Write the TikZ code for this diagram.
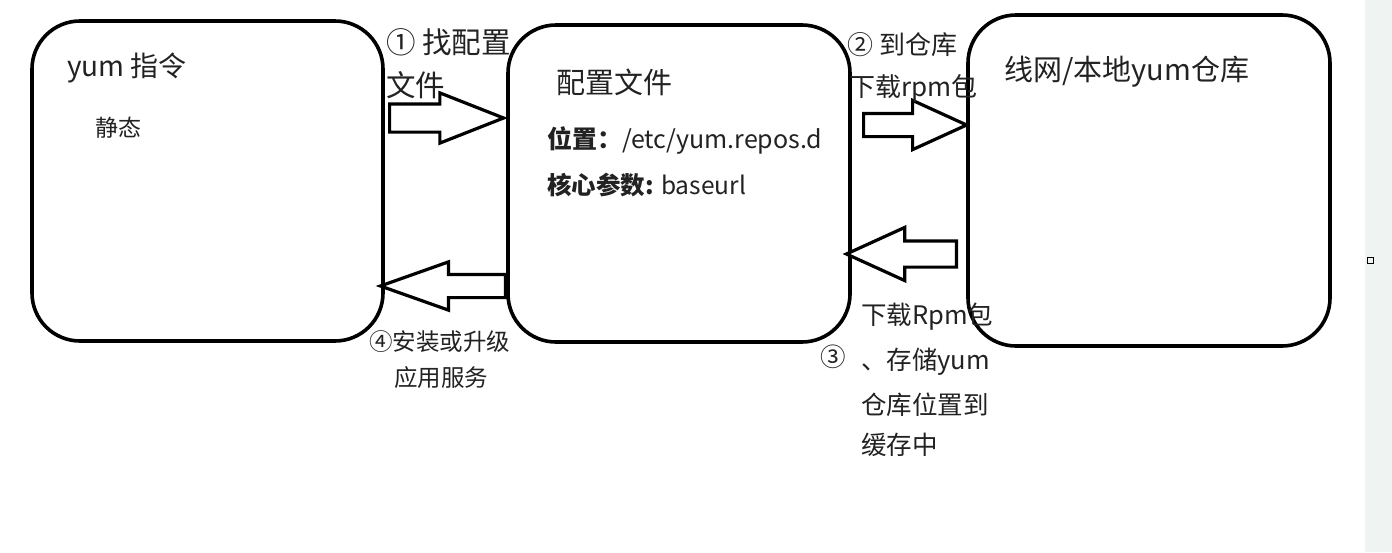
\documentclass[tikz,border=0pt]{standalone}
\usepackage{fontspec}
\setmainfont{Noto Sans CJK SC}
\usetikzlibrary{shapes.arrows}
\definecolor{ink}{HTML}{222222}
\definecolor{band}{HTML}{EFF4F2}
\newcommand{\fs}[1]{\fontsize{#1}{#1}\selectfont}
\tikzset{
  stage/.style={draw=black,line width=3.6pt,rounded corners=48pt,inner sep=0pt},
  fat/.style={single arrow,draw=black,line width=3.2pt,fill=white,inner xsep=0pt,single arrow head indent=0pt,anchor=tail},
  txt/.style={anchor=west,text=ink,inner sep=0pt},
}
\begin{document}
\begin{tikzpicture}[x=1pt,y=-1pt]
  \useasboundingbox (0,0) rectangle (1392,552);
  \fill[white] (0,0) rectangle (1392,552);
  \fill[band] (1365,0) rectangle (1392,552);
  \draw[line width=1pt] (1367,257) rectangle (1373,263);
  % three stages
  \node[stage,minimum width=351pt,minimum height=320pt] (cmd) at (207.5,181) {};
  \node[stage,minimum width=342pt,minimum height=317pt] (cfg) at (679,183.5) {};
  \node[stage,minimum width=362pt,minimum height=331pt] (repo) at (1149,180.5) {};
  % block arrows
  \node[fat,inner ysep=12.5pt,single arrow head extend=11pt,single arrow tip angle=43,minimum height=114pt] (a1) at (388,118) {};
  \node[fat,inner ysep=10pt,single arrow head extend=13pt,single arrow tip angle=49,minimum height=103pt] (a2) at (862,125) {};
  \node[fat,shape border rotate=180,inner ysep=11.5pt,single arrow head extend=13.5pt,single arrow tip angle=49,minimum height=110pt] (a3) at (958,254) {};
  \node[fat,shape border rotate=180,inner ysep=10pt,single arrow head extend=12.5pt,single arrow tip angle=39,minimum height=125pt] (a4) at (507,286) {};
  % box texts
  \node[txt,font=\fs{28}] (cmdT) at (67,68) {yum 指令};
  \node[txt,font=\fs{23}] (cmdS) at (95,128) {静态};
  \node[txt,font=\fs{29}] (cfgT) at (556,82) {配置文件};
  \node[txt,font=\fs{25}] (cfgP) at (547,140) {\textbf{位置：}/etc/yum.repos.d};
  \node[txt,font=\fs{24.5}] (cfgK) at (547,185) {\textbf{核心参数:} baseurl};
  \node[txt,font=\fs{29}] (repoT) at (1004,72) {线网/本地yum仓库};
  % step labels
  \node[txt,font=\fs{29.5}] (s1a) at (386,42) {① 找配置};
  \node[txt,font=\fs{29.5}] (s1b) at (386,85) {文件};
  \node[txt,font=\fs{26}] (s2a) at (847,45) {② 到仓库};
  \node[txt,font=\fs{26}] (s2b) at (849,88) {下载rpm包};
  \node[txt,font=\fs{25.5}] (s3n) at (820,357) {③};
  \node[txt,font=\fs{25.5}] (s3a) at (861,317) {下载Rpm包};
  \node[txt,font=\fs{25.5}] (s3b) at (861,362) {、存储yum};
  \node[txt,font=\fs{25.5}] (s3c) at (861,405) {仓库位置到};
  \node[txt,font=\fs{25.5}] (s3d) at (861,445) {缓存中};
  \node[txt,font=\fs{23.5}] (s4a) at (369,342) {④安装或升级};
  \node[txt,font=\fs{23.5}] (s4b) at (394,378) {应用服务};
\end{tikzpicture}
\end{document}
